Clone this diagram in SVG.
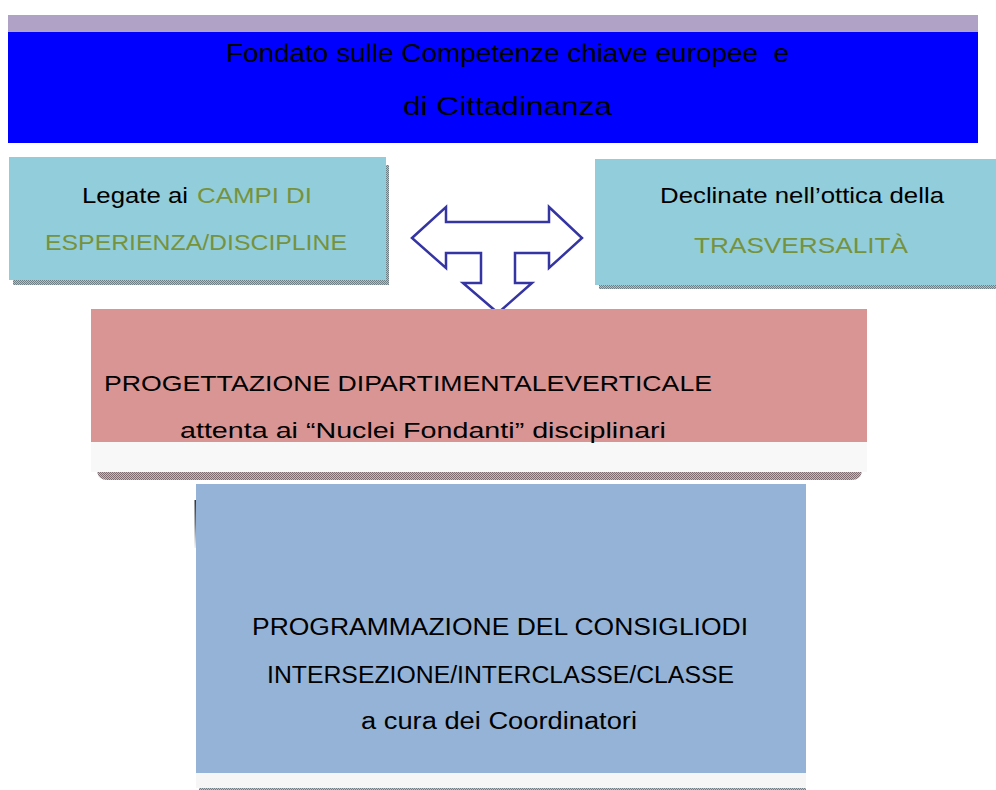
<svg xmlns="http://www.w3.org/2000/svg" width="996" height="790" viewBox="0 0 996 790">
<style>
  .t { font-family: "Liberation Sans", Arial, sans-serif; fill: #000; white-space: pre; }
  .g { fill: #76923c; }
  .cyan { fill: #92cddc; }
  .strip { fill: #f8f8f8; }
</style>
<defs>
  <pattern id="chkGray" width="2" height="2" patternUnits="userSpaceOnUse">
    <rect width="2" height="2" fill="#b4c0c4"/>
    <rect width="1" height="1" fill="#6f7f86"/>
    <rect x="1" y="1" width="1" height="1" fill="#6f7f86"/>
  </pattern>
  <pattern id="chkPink" width="2" height="2" patternUnits="userSpaceOnUse">
    <rect width="2" height="2" fill="#c9b7ba"/>
    <rect width="1" height="1" fill="#7f6c70"/>
    <rect x="1" y="1" width="1" height="1" fill="#7f6c70"/>
  </pattern>
  <linearGradient id="mark" x1="0" y1="0" x2="0" y2="1">
    <stop offset="0" stop-color="#333"/>
    <stop offset="0.5" stop-color="#777"/>
    <stop offset="1" stop-color="#eee"/>
  </linearGradient>
</defs>
<rect width="996" height="790" fill="#fff"/>

<g id="header">
  <rect x="8" y="15" width="970" height="17" fill="#b0a2c6"/>
  <rect x="8" y="32" width="970" height="111" fill="#0000ff"/>
  <text class="t" x="226" y="62" font-size="26" textLength="563" lengthAdjust="spacingAndGlyphs" xml:space="preserve">Fondato sulle Competenze chiave europee  e</text>
  <text class="t" x="403" y="115" font-size="26" textLength="209" lengthAdjust="spacingAndGlyphs">di Cittadinanza</text>
</g>

<g id="campi">
  <rect x="386" y="165" width="3" height="120" fill="url(#chkGray)"/>
  <rect x="13" y="280" width="376" height="5" fill="url(#chkGray)"/>
  <rect class="cyan" x="9" y="157" width="377" height="123"/>
  <text class="t" x="82" y="203" font-size="22" textLength="106" lengthAdjust="spacingAndGlyphs">Legate ai</text>
  <text class="t g" x="197" y="203" font-size="22" textLength="115" lengthAdjust="spacingAndGlyphs">CAMPI DI</text>
  <text class="t g" x="45" y="250" font-size="22" textLength="302" lengthAdjust="spacingAndGlyphs">ESPERIENZA/DISCIPLINE</text>
</g>

<g id="trasversalita">
  <rect x="599" y="285" width="397" height="4" fill="url(#chkGray)"/>
  <rect class="cyan" x="595" y="159" width="401" height="126"/>
  <text class="t" x="660" y="203" font-size="22" textLength="284" lengthAdjust="spacingAndGlyphs">Declinate nell’ottica della</text>
  <text class="t g" x="694" y="253" font-size="22" textLength="214" lengthAdjust="spacingAndGlyphs">TRASVERSALITÀ</text>
</g>

<g id="connectors">
  <polygon points="412,238 446,207 446,222 549,222 549,207 582,238 549,268 549,253 515,253 515,283 532,283 498,313 463,283 481,283 481,253 446,253 446,268" fill="#fff" stroke="#3434a2" stroke-width="2.5" stroke-linejoin="miter"/>
</g>

<g id="progettazione">
  <path d="M97,472 H862 Q860,480 852,480 H107 Q99,480 97,472 Z" fill="url(#chkPink)"/>
  <rect class="strip" x="91" y="442" width="776" height="30"/>
  <rect x="91" y="309" width="776" height="133" fill="#d99594"/>
  <text class="t" x="104" y="391" font-size="22" textLength="608" lengthAdjust="spacingAndGlyphs">PROGETTAZIONE DIPARTIMENTALEVERTICALE</text>
  <text class="t" x="180" y="438" font-size="22" textLength="486" lengthAdjust="spacingAndGlyphs">attenta ai “Nuclei Fondanti” disciplinari</text>
</g>

<g id="programmazione">
  <rect x="199" y="788" width="607" height="2" fill="url(#chkGray)"/>
  <rect x="196" y="773" width="610" height="15" fill="#f6f6f6"/>
  <rect x="196" y="484" width="610" height="289" fill="#95b3d7"/>
  <rect x="194.5" y="500" width="1.5" height="48" fill="url(#mark)"/>
  <text class="t" x="252" y="635" font-size="23" textLength="496" lengthAdjust="spacingAndGlyphs">PROGRAMMAZIONE DEL CONSIGLIODI</text>
  <text class="t" x="267" y="683" font-size="23" textLength="467" lengthAdjust="spacingAndGlyphs">INTERSEZIONE/INTERCLASSE/CLASSE</text>
  <text class="t" x="361" y="729" font-size="23" textLength="276" lengthAdjust="spacingAndGlyphs">a cura dei Coordinatori</text>
</g>
</svg>
